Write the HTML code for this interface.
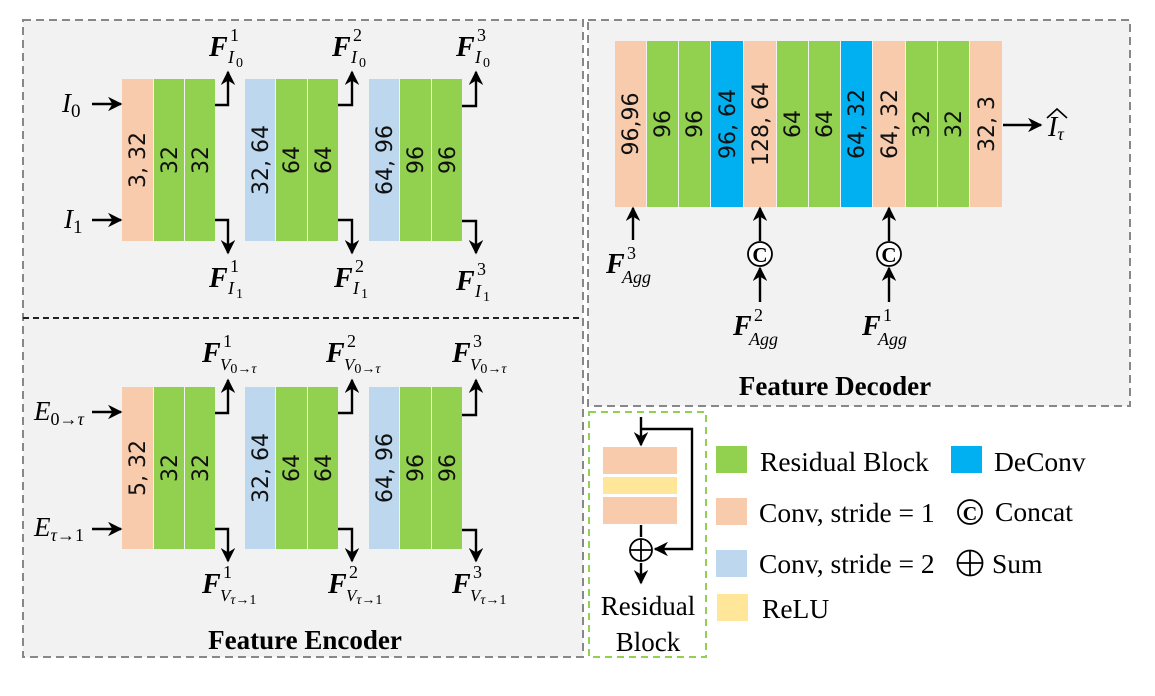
<!DOCTYPE html>
<html><head><meta charset="utf-8"><style>
html,body{margin:0;padding:0;background:#fff;}
svg{display:block;}
.n{font-family:"DejaVu Sans","Liberation Sans",sans-serif;font-size:22px;fill:#111;}
.m{font-family:"Liberation Serif",serif;font-style:italic;fill:#000;}
.F{font-family:"Liberation Serif",serif;font-style:italic;font-weight:bold;font-size:28px;fill:#000;}
.t{font-family:"Liberation Serif",serif;fill:#000;}
</style></head><body>
<svg width="1155" height="696" viewBox="0 0 1155 696" xmlns="http://www.w3.org/2000/svg">
<defs>
<marker id="a" viewBox="0 0 10 10" refX="9" refY="5" markerWidth="6" markerHeight="6" orient="auto-start-reverse"><path d="M0,0 L10,5 L0,10 L3,5 z" fill="#000"/></marker>
</defs>
<rect x="23" y="20" width="560" height="637" fill="#f2f2f2" stroke="#888" stroke-width="2" stroke-dasharray="8,5"/>
<line x1="23" y1="318" x2="583" y2="318" stroke="#222" stroke-width="2" stroke-dasharray="6,4"/>
<rect x="588" y="20" width="542" height="386" fill="#f2f2f2" stroke="#888" stroke-width="2" stroke-dasharray="8,5"/>
<rect x="589" y="412" width="117" height="245" fill="#fff" stroke="#92d050" stroke-width="2" stroke-dasharray="7,5"/>

<g id="enc">
<rect x="122" y="79" width="31" height="162" fill="#f8cbad"/>
<rect x="154" y="79" width="30" height="162" fill="#92d050"/>
<rect x="185" y="79" width="30" height="162" fill="#92d050"/>
<rect x="245" y="79" width="30" height="162" fill="#bdd7ee"/>
<rect x="276" y="79" width="31" height="162" fill="#92d050"/>
<rect x="308" y="79" width="30" height="162" fill="#92d050"/>
<rect x="369" y="79" width="30" height="162" fill="#bdd7ee"/>
<rect x="400" y="79" width="31" height="162" fill="#92d050"/>
<rect x="432" y="79" width="30" height="162" fill="#92d050"/>
<g class="n" text-anchor="middle">
<text transform="translate(145,160) rotate(-90)">3, 32</text>
<text transform="translate(177,160) rotate(-90)">32</text>
<text transform="translate(208,160) rotate(-90)">32</text>
<text transform="translate(268,160) rotate(-90)">32, 64</text>
<text transform="translate(299,160) rotate(-90)">64</text>
<text transform="translate(331,160) rotate(-90)">64</text>
<text transform="translate(392,160) rotate(-90)">64, 96</text>
<text transform="translate(423,160) rotate(-90)">96</text>
<text transform="translate(455,160) rotate(-90)">96</text>
</g>
<g stroke="#000" stroke-width="2.4" fill="none" marker-end="url(#a)">
<polyline points="215,105 228,105 228,72"/>
<polyline points="338,105 352,105 352,72"/>
<polyline points="462,106 476,106 476,72"/>
<polyline points="215,220 228,220 228,253"/>
<polyline points="338,220 352,220 352,253"/>
<polyline points="462,221 476,221 476,253"/>
</g>
</g>
<g stroke="#000" stroke-width="2.4" marker-end="url(#a)">
<line x1="92" y1="104" x2="121" y2="104"/>
<line x1="92" y1="220" x2="121" y2="220"/>
</g>
<text class="m" x="62" y="112" font-size="27">I<tspan font-size="19" font-style="normal" dy="5">0</tspan></text>
<text class="m" x="64" y="228" font-size="27">I<tspan font-size="19" font-style="normal" dy="5">1</tspan></text>
<g>
<text class="F" x="209" y="56">F</text><text class="t" x="230" y="41" font-size="18">1</text><text class="m" x="228" y="63" font-size="18">I</text><text class="t" x="236" y="67" font-size="14">0</text>
<text class="F" x="332" y="56">F</text><text class="t" x="353" y="41" font-size="18">2</text><text class="m" x="351" y="63" font-size="18">I</text><text class="t" x="359" y="67" font-size="14">0</text>
<text class="F" x="456" y="56">F</text><text class="t" x="477" y="41" font-size="18">3</text><text class="m" x="475" y="63" font-size="18">I</text><text class="t" x="483" y="67" font-size="14">0</text>
<text class="F" x="209" y="287">F</text><text class="t" x="230" y="272" font-size="18">1</text><text class="m" x="228" y="294" font-size="18">I</text><text class="t" x="236" y="298" font-size="14">1</text>
<text class="F" x="334" y="287">F</text><text class="t" x="355" y="272" font-size="18">2</text><text class="m" x="353" y="294" font-size="18">I</text><text class="t" x="361" y="298" font-size="14">1</text>
<text class="F" x="456" y="290">F</text><text class="t" x="477" y="275" font-size="18">3</text><text class="m" x="475" y="297" font-size="18">I</text><text class="t" x="483" y="301" font-size="14">1</text>
</g>

<g transform="translate(0,308)">
<rect x="122" y="79" width="31" height="162" fill="#f8cbad"/>
<rect x="154" y="79" width="30" height="162" fill="#92d050"/>
<rect x="185" y="79" width="30" height="162" fill="#92d050"/>
<rect x="245" y="79" width="30" height="162" fill="#bdd7ee"/>
<rect x="276" y="79" width="31" height="162" fill="#92d050"/>
<rect x="308" y="79" width="30" height="162" fill="#92d050"/>
<rect x="369" y="79" width="30" height="162" fill="#bdd7ee"/>
<rect x="400" y="79" width="31" height="162" fill="#92d050"/>
<rect x="432" y="79" width="30" height="162" fill="#92d050"/>
<g class="n" text-anchor="middle">
<text transform="translate(145,160) rotate(-90)">5, 32</text>
<text transform="translate(177,160) rotate(-90)">32</text>
<text transform="translate(208,160) rotate(-90)">32</text>
<text transform="translate(268,160) rotate(-90)">32, 64</text>
<text transform="translate(299,160) rotate(-90)">64</text>
<text transform="translate(331,160) rotate(-90)">64</text>
<text transform="translate(392,160) rotate(-90)">64, 96</text>
<text transform="translate(423,160) rotate(-90)">96</text>
<text transform="translate(455,160) rotate(-90)">96</text>
</g>
<g stroke="#000" stroke-width="2.4" fill="none" marker-end="url(#a)">
<polyline points="215,105 228,105 228,72"/>
<polyline points="338,105 352,105 352,72"/>
<polyline points="462,107 476,107 476,72"/>
<polyline points="215,221 228,221 228,253"/>
<polyline points="338,221 352,221 352,253"/>
<polyline points="462,222 476,222 476,253"/>
</g>
<g stroke="#000" stroke-width="2.4" marker-end="url(#a)">
<line x1="92" y1="104" x2="121" y2="104"/>
<line x1="92" y1="221" x2="121" y2="221"/>
</g>
</g>
<text class="m" x="34" y="420" font-size="27">E<tspan font-size="18" font-style="normal" dy="5">0→</tspan><tspan font-size="18">τ</tspan></text>
<text class="m" x="34" y="536" font-size="27">E<tspan font-size="18" dy="5">τ</tspan><tspan font-size="18" font-style="normal">→1</tspan></text>
<g>
<text class="F" x="202" y="362">F</text><text class="t" x="223" y="347" font-size="18">1</text><text class="m" x="220" y="370" font-size="17">V<tspan font-style="normal" font-size="14" dy="3">0→</tspan><tspan font-size="14">τ</tspan></text>
<text class="F" x="326" y="362">F</text><text class="t" x="347" y="347" font-size="18">2</text><text class="m" x="344" y="370" font-size="17">V<tspan font-style="normal" font-size="14" dy="3">0→</tspan><tspan font-size="14">τ</tspan></text>
<text class="F" x="452" y="362">F</text><text class="t" x="473" y="347" font-size="18">3</text><text class="m" x="470" y="370" font-size="17">V<tspan font-style="normal" font-size="14" dy="3">0→</tspan><tspan font-size="14">τ</tspan></text>
<text class="F" x="202" y="593">F</text><text class="t" x="223" y="578" font-size="18">1</text><text class="m" x="220" y="601" font-size="17">V<tspan font-size="14" dy="3">τ</tspan><tspan font-style="normal" font-size="14">→1</tspan></text>
<text class="F" x="328" y="593">F</text><text class="t" x="349" y="578" font-size="18">2</text><text class="m" x="346" y="601" font-size="17">V<tspan font-size="14" dy="3">τ</tspan><tspan font-style="normal" font-size="14">→1</tspan></text>
<text class="F" x="452" y="593">F</text><text class="t" x="473" y="578" font-size="18">3</text><text class="m" x="470" y="601" font-size="17">V<tspan font-size="14" dy="3">τ</tspan><tspan font-style="normal" font-size="14">→1</tspan></text>
</g>
<text class="t" x="274" y="649" font-size="27" font-weight="bold" text-anchor="middle" transform="translate(31,0)">Feature Encoder</text>

<g>
<rect x="615" y="41" width="31" height="166" fill="#f8cbad"/>
<rect x="647" y="41" width="31" height="166" fill="#92d050"/>
<rect x="679" y="41" width="31" height="166" fill="#92d050"/>
<rect x="711" y="41" width="32" height="166" fill="#00b0f0"/>
<rect x="744" y="41" width="32" height="166" fill="#f8cbad"/>
<rect x="777" y="41" width="31" height="166" fill="#92d050"/>
<rect x="809" y="41" width="31" height="166" fill="#92d050"/>
<rect x="841" y="41" width="31" height="166" fill="#00b0f0"/>
<rect x="873" y="41" width="32" height="166" fill="#f8cbad"/>
<rect x="906" y="41" width="31" height="166" fill="#92d050"/>
<rect x="938" y="41" width="31" height="166" fill="#92d050"/>
<rect x="970" y="41" width="32" height="166" fill="#f8cbad"/>
<g class="n" text-anchor="middle">
<text transform="translate(638,124) rotate(-90)">96,96</text>
<text transform="translate(670,124) rotate(-90)">96</text>
<text transform="translate(702,124) rotate(-90)">96</text>
<text transform="translate(735,124) rotate(-90)">96, 64</text>
<text transform="translate(768,124) rotate(-90)">128, 64</text>
<text transform="translate(800,124) rotate(-90)">64</text>
<text transform="translate(832,124) rotate(-90)">64</text>
<text transform="translate(864,124) rotate(-90)">64, 32</text>
<text transform="translate(897,124) rotate(-90)">64, 32</text>
<text transform="translate(929,124) rotate(-90)">32</text>
<text transform="translate(961,124) rotate(-90)">32</text>
<text transform="translate(994,124) rotate(-90)">32, 3</text>
</g>
<g stroke="#000" stroke-width="2.4" marker-end="url(#a)">
<line x1="1003" y1="125" x2="1041" y2="125"/>
<line x1="633" y1="240" x2="633" y2="208"/>
<line x1="760" y1="241" x2="760" y2="208"/>
<line x1="760" y1="302" x2="760" y2="268"/>
<line x1="889" y1="241" x2="889" y2="208"/>
<line x1="889" y1="302" x2="889" y2="268"/>
</g>
<circle cx="760" cy="254" r="12" fill="#fff" stroke="#000" stroke-width="1.8"/>
<text class="t" x="760" y="262" font-size="21" font-weight="bold" text-anchor="middle">C</text>
<circle cx="889" cy="254" r="12" fill="#fff" stroke="#000" stroke-width="1.8"/>
<text class="t" x="889" y="262" font-size="21" font-weight="bold" text-anchor="middle">C</text>
<text class="m" x="1048" y="136" font-size="28">I<tspan font-size="18" dy="4">τ</tspan></text>
<path d="M1047,118 L1057,109 L1067,118" stroke="#000" stroke-width="1.6" fill="none"/>
<text class="F" x="606" y="273">F</text><text class="t" x="627" y="259" font-size="18">3</text><text class="m" x="622" y="283" font-size="18">Agg</text>
<text class="F" x="733" y="335">F</text><text class="t" x="754" y="321" font-size="18">2</text><text class="m" x="749" y="345" font-size="18">Agg</text>
<text class="F" x="862" y="335">F</text><text class="t" x="883" y="321" font-size="18">1</text><text class="m" x="878" y="345" font-size="18">Agg</text>
<text class="t" x="835" y="395" font-size="27" font-weight="bold" text-anchor="middle">Feature Decoder</text>
</g>

<rect x="603" y="447" width="74" height="27" fill="#f8cbad"/>
<rect x="603" y="477" width="74" height="17" fill="#ffe699"/>
<rect x="603" y="497" width="74" height="27" fill="#f8cbad"/>
<g stroke="#000" stroke-width="2.4" fill="none">
<line x1="641" y1="417" x2="641" y2="445" marker-end="url(#a)"/>
<polyline points="641,429 692,429 692,549 655,549" marker-end="url(#a)"/>
<line x1="641" y1="525" x2="641" y2="537"/>
<line x1="641" y1="563" x2="641" y2="583" marker-end="url(#a)"/>
</g>
<circle cx="641" cy="550" r="11" fill="none" stroke="#000" stroke-width="1.8"/>
<line x1="630" y1="550" x2="652" y2="550" stroke="#000" stroke-width="1.8"/>
<line x1="641" y1="539" x2="641" y2="561" stroke="#000" stroke-width="1.8"/>
<text class="t" x="648" y="615" font-size="27" text-anchor="middle">Residual</text>
<text class="t" x="648" y="651" font-size="27" text-anchor="middle">Block</text>

<rect x="716" y="446" width="31" height="27" fill="#92d050"/>
<rect x="716" y="498" width="31" height="27" fill="#f8cbad"/>
<rect x="716" y="550" width="31" height="27" fill="#bdd7ee"/>
<rect x="717" y="594" width="31" height="27" fill="#ffe699"/>
<rect x="951" y="446" width="31" height="27" fill="#00b0f0"/>
<g class="t" font-size="27.5">
<text x="760" y="471">Residual Block</text>
<text x="759" y="522">Conv, stride = 1</text>
<text x="759" y="573">Conv, stride = 2</text>
<text x="762" y="618">ReLU</text>
<text x="994" y="471">DeConv</text>
<text x="995" y="521">Concat</text>
<text x="992" y="573">Sum</text>
</g>
<circle cx="970" cy="512" r="12" fill="none" stroke="#000" stroke-width="1.8"/>
<text class="t" x="970" y="520" font-size="20" font-weight="bold" text-anchor="middle">C</text>
<circle cx="970" cy="563" r="12.5" fill="none" stroke="#000" stroke-width="1.8"/>
<line x1="957.5" y1="563" x2="982.5" y2="563" stroke="#000" stroke-width="1.8"/>
<line x1="970" y1="550.5" x2="970" y2="575.5" stroke="#000" stroke-width="1.8"/>
</svg>
</body></html>
